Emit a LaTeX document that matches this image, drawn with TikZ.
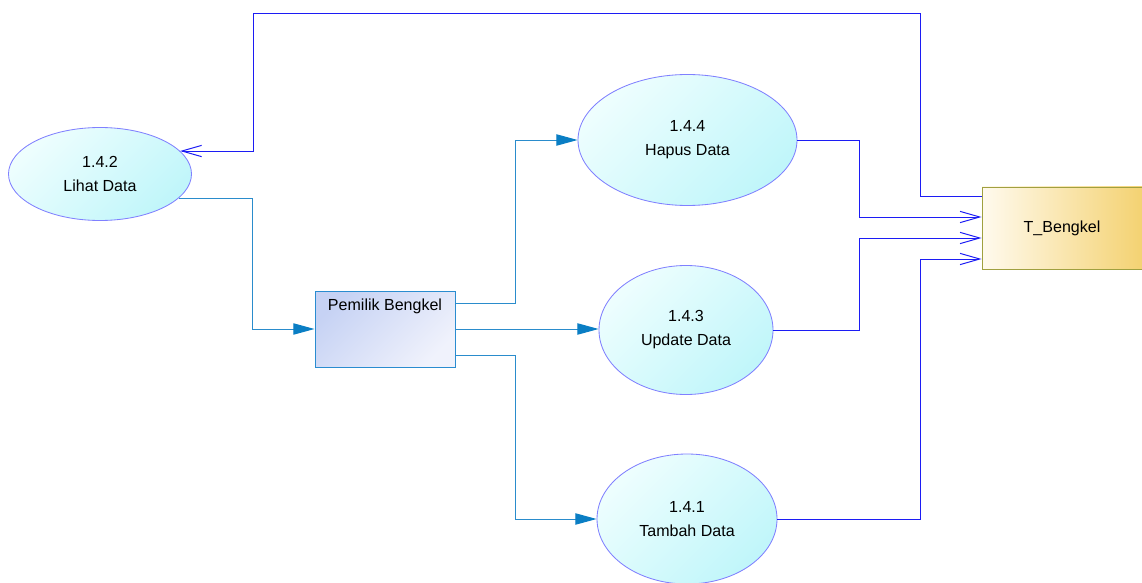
\documentclass[tikz,border=0pt]{standalone}
\usepackage{fontspec}
\setmainfont{Liberation Sans}
\usepackage{tikz}
\usetikzlibrary{shapes.geometric,arrows.meta,calc}
\definecolor{dfdE1}{HTML}{EEFEFE}
\definecolor{dfdE2}{HTML}{C0F6FA}
\definecolor{dfdEl}{HTML}{8080FF}
\definecolor{dfdP1}{HTML}{C6D2F4}
\definecolor{dfdP2}{HTML}{F0F2FC}
\definecolor{dfdPl}{HTML}{2A8CD0}
\definecolor{dfdS1}{HTML}{FFFAEE}
\definecolor{dfdS2}{HTML}{F4D272}
\definecolor{dfdSl}{HTML}{A0A040}
\definecolor{dfdIn}{HTML}{1C1CF4}
\definecolor{dfdOut}{HTML}{2A8CCC}
\definecolor{dfdTip}{HTML}{0A7EC4}
\def\px{0.025cm}
\tikzset{
  proc/.style={ellipse,draw=dfdEl,line width=0.6pt,top color=dfdE1,bottom color=dfdE2,shading angle=45,
    inner sep=0pt,align=center,font=\fontsize{11.4}{17}\selectfont},
  entity/.style={rectangle,draw=dfdPl,line width=0.7pt,top color=dfdP1,bottom color=dfdP2,shading angle=45,inner sep=0pt},
  store/.style={rectangle,draw=dfdSl,line width=0.7pt,left color=dfdS1,right color=dfdS2,inner sep=0pt,font=\fontsize{11.4}{14}\selectfont},
  flowout/.style={draw=dfdOut,line width=0.7pt,-{Triangle[length=15pt,width=8pt,color=dfdTip]}},
  flowin/.style={draw=dfdIn,line width=0.7pt,-{Straight Barb[length=14pt,width=8pt]}}
}
\begin{document}
\begin{tikzpicture}[x=\px,y=-\px]
\useasboundingbox (0,0) rectangle (1142,583);
% processes
\node[proc,minimum width=183*\px,minimum height=93*\px] (lihat) at (100,174) {1.4.2\\Lihat Data};
\node[proc,minimum width=219*\px,minimum height=131*\px] (hapus) at (687.5,140) {1.4.4\\Hapus Data};
\node[proc,minimum width=174*\px,minimum height=129*\px] (update) at (686,330) {1.4.3\\Update Data};
\node[proc,minimum width=180*\px,minimum height=130*\px] (tambah) at (687,519) {1.4.1\\Tambah Data};
% entity and data store
\node[entity,minimum width=140*\px,minimum height=76*\px] (pemilik) at (385,329) {};
\node[anchor=north,inner sep=0pt,font=\fontsize{11.4}{14}\selectfont] (pemiliklbl) at ($(pemilik.north)+(0,8)$) {Pemilik Bengkel};
\node[store,minimum width=160*\px,minimum height=82*\px] (tb) at (1062,228) {T\_Bengkel};
\coordinate (tbA) at ($(tb.west)+(0,-32)$);
\coordinate (tbB) at ($(tb.west)+(0,-11)$);
\coordinate (tbC) at ($(tb.west)+(0,10)$);
\coordinate (tbD) at ($(tb.west)+(0,31)$);
\coordinate (topR) at (920,13);
\coordinate (topL) at (253,13);
\coordinate (midR) at (859,0);
% flows
\draw[flowin] (tbA) -| (topR) -- (topL) |- (lihat.16);
\draw[flowout] (lihat.-17) -| ($(pemilik.west)+(-62,0)$) -- (pemilik.west);
\draw[flowout] ($(pemilik.east)+(0,-26)$) -| ($(hapus.west)+(-62,0)$) -- (hapus.west);
\draw[flowout] (pemilik.east) -- (pemilik.east -| update.west);
\draw[flowout] ($(pemilik.east)+(0,26)$) -| ($(tambah.west)+(-81,0)$) -- (tambah.west);
\draw[flowin] (hapus.east) -| (midR |- tbB) -- (tbB);
\draw[flowin] (update.east) -| (midR |- tbC) -- (tbC);
\draw[flowin] (tambah.east) -| (topR |- tbD) -- (tbD);
\end{tikzpicture}
\end{document}
